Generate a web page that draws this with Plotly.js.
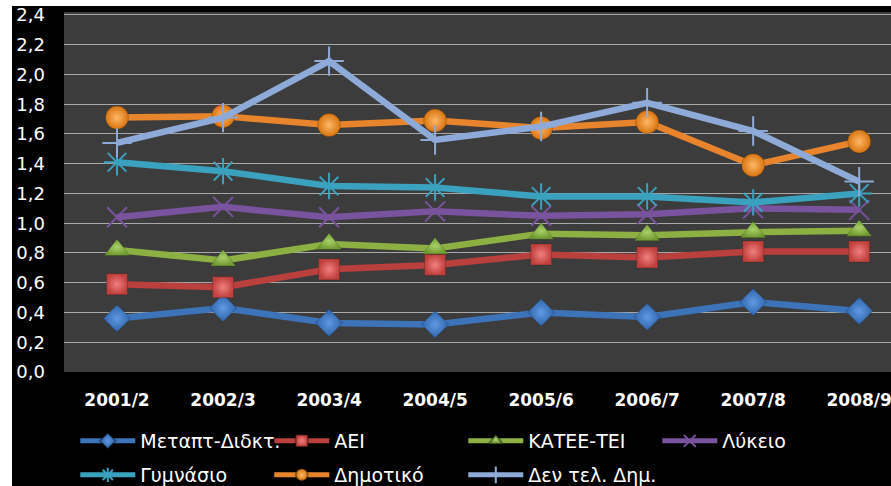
<!DOCTYPE html>
<html><head><meta charset="utf-8">
<script src="https://cdn.plot.ly/plotly-3.0.1.min.js"></script>
<style>
html,body{margin:0;padding:0;background:#ffffff;width:891px;height:486px;overflow:hidden}
#chart{position:absolute;left:12px;top:0px;width:879px;height:486px}
#topband{position:absolute;left:0;top:0;width:891px;height:6px;background:#ffffff;z-index:5}
</style>
</head><body><div id="chart"></div><div id="topband"></div>
<script>
const years = ['2001/2','2002/3','2003/4','2004/5','2005/6','2006/7','2007/8','2008/9'];
const seriesNames = ['Μεταπτ-Διδκτ.','ΑΕΙ','ΚΑΤΕΕ-ΤΕΙ','Λύκειο','Γυμνάσιο','Δημοτικό','Δεν τελ. Δημ.'];
const postgrad   = [0.36,0.43,0.33,0.32,0.40,0.37,0.47,0.41];
const university = [0.59,0.57,0.69,0.72,0.79,0.77,0.81,0.81];
const tei        = [0.82,0.75,0.86,0.83,0.93,0.92,0.94,0.95];
const lyceum     = [1.04,1.11,1.04,1.08,1.05,1.06,1.10,1.09];
const gymnasium  = [1.41,1.35,1.25,1.24,1.18,1.18,1.14,1.20];
const primary    = [1.71,1.72,1.66,1.69,1.64,1.68,1.39,1.55];
const noPrimary  = [1.54,1.71,2.09,1.56,1.65,1.81,1.62,1.28];
const yTickVals = [0,0.2,0.4,0.6,0.8,1.0,1.2,1.4,1.6,1.8,2.0,2.2,2.4];
const yTickText = ['0,0','0,2','0,4','0,6','0,8','1,0','1,2','1,4','1,6','1,8','2,0','2,2','2,4'];

const values = [postgrad, university, tei, lyceum, gymnasium, primary, noPrimary];
const lineColors = ['#3d73b9','#b9403d','#8db043','#7a539f','#3aa2be','#e8842c','#8eaad8'];
const markerColors = ['#2f64ad','#c0403c','#6f9a2e','#7a539f','#3aa2be','#d8740f','#8eaad8'];
const gradColors = ['#5f9ae0','#f08080','#a9d06a',null,null,'#ffb868',null];
const symbols = ['diamond','square','triangle-up','x-thin-open','asterisk-open','circle','cross-thin-open'];
const sizes = [21,21,22,20,22,23,21];

const traces = values.map((v,i)=>{
  const isOpen = symbols[i].indexOf('open')>=0;
  const m = {symbol:symbols[i], size:sizes[i], color:markerColors[i],
    line:{width: isOpen ? 2 : 0.5, color: isOpen ? markerColors[i] : 'rgba(0,0,0,0.35)'}};
  if (gradColors[i]) m.gradient = {type:'radial', color:gradColors[i]};
  return {
    type:'scatter', mode:'lines+markers', x:years, y:v, name:seriesNames[i],
    line:{color:lineColors[i], width:6.5},
    marker:m,
    legend: i<4 ? 'legend' : 'legend2',
    hoverinfo:'skip'
  };
});

const legendCommon = {
  orientation:'h', xref:'container', yref:'container', xanchor:'left', yanchor:'middle',
  bgcolor:'rgba(0,0,0,0)', font:{family:'DejaVu Sans, Verdana, sans-serif', size:19, color:'#ffffff'},
  entrywidth:124, entrywidthmode:'pixels', itemwidth:55, itemsizing:'constant', traceorder:'normal'
};

const layout = {
  width:879, height:486,
  paper_bgcolor:'#000000', plot_bgcolor:'#3c3c3c',
  margin:{l:52, r:0, t:12, b:114},
  showlegend:true,
  font:{family:'DejaVu Sans, Verdana, sans-serif', color:'#ffffff'},
  xaxis:{type:'category', range:[-0.5,7.3], showgrid:false, zeroline:false, showline:false,
    ticks:'', tickfont:{size:17, color:'#ffffff', weight:'bold'}, ticklabelstandoff:16, fixedrange:true},
  yaxis:{range:[0,2.42], tickvals:yTickVals, ticktext:yTickText, showgrid:true, gridcolor:'#a8a8a8',
    gridwidth:1, zeroline:false, showline:false, ticks:'', tickfont:{size:18, color:'#ffffff'},
    ticklabelstandoff:18, ticklabeloverflow:'allow', fixedrange:true},
  legend: Object.assign({x:0.072, y:0.0926}, legendCommon),
  legend2: Object.assign({x:0.072, y:0.0226}, legendCommon)
};

Plotly.newPlot('chart', traces, layout, {displayModeBar:false, staticPlot:true});
</script>
</body></html>
